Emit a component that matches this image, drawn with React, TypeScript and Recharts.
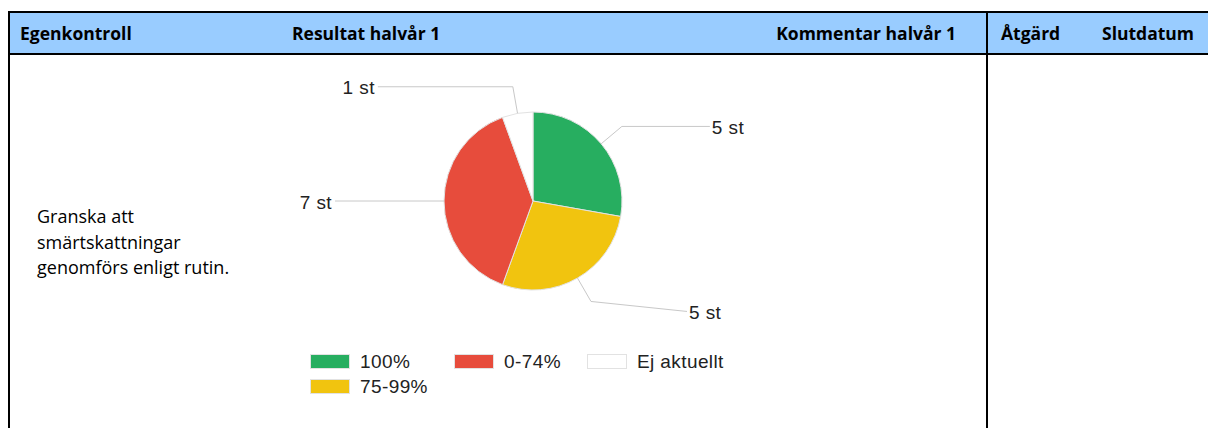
import React from 'react';
import { PieChart, Pie, Cell } from 'recharts';

const categories = ['100%', '75-99%', '0-74%', 'Ej aktuellt'];
const counts = [5, 5, 7, 1];
const colors = ['#27AE60', '#F1C40F', '#E74C3C', '#FFFFFF'];

const headers = ['Egenkontroll', 'Resultat halvår 1', 'Kommentar halvår 1', 'Åtgärd', 'Slutdatum'];
const taskLines = ['Granska att', 'smärtskattningar', 'genomförs enligt rutin.'];

const chartData = categories.map((name, i) => ({ name, value: counts[i] }));

// leader arm tweaks per slice (horizontal length, vertical drop)
const labelArms = [
  { len: 88, drop: 0 },
  { len: 96, drop: 10 },
  { len: 82, drop: 0 },
  { len: 135, drop: 0 },
];

const RAD = Math.PI / 180;
const labelFont = '"Liberation Sans", Arial, sans-serif';
const cellFont = '"Open Sans", Lato, sans-serif';

const renderLabel = (props: any) => {
  const { cx, cy, midAngle, outerRadius, index, value } = props;
  const cos = Math.cos(-midAngle * RAD);
  const sin = Math.sin(-midAngle * RAD);
  const sx = cx + outerRadius * cos;
  const sy = cy + outerRadius * sin;
  const mx = cx + (outerRadius + 27) * cos;
  const my = cy + (outerRadius + 27) * sin;
  const right = cos >= 0;
  const arm = labelArms[index] || { len: 80, drop: 0 };
  const ex = mx + (right ? arm.len : -arm.len);
  const ey = my + arm.drop;
  return (
    <g>
      <polyline points={`${sx},${sy} ${mx},${my} ${ex},${ey}`} fill="none" stroke="#c8c8c8" strokeWidth={1} />
      <text
        x={ex + (right ? 2 : -3)}
        y={ey + 1}
        textAnchor={right ? 'start' : 'end'}
        dominantBaseline="central"
        fontFamily={labelFont}
        fontSize={19}
        letterSpacing={0.4}
        fill="#222"
      >
        {`${value} st`}
      </text>
    </g>
  );
};

const legendSlots = [
  { row: 1, col: 1 },
  { row: 2, col: 1 },
  { row: 1, col: 2 },
  { row: 1, col: 3 },
];

const App: React.FC = () => {
  const headerX = [20, 292, null, 1001, 1102];
  return (
    <div style={{ position: 'absolute', left: 0, top: 0, width: 1208, height: 428, background: '#fff', overflow: 'hidden' }}>
      {/* header band */}
      <div style={{ position: 'absolute', left: 10, top: 13, width: 1198, height: 41, background: '#99CCFF' }} />
      <div style={{ position: 'absolute', left: 8, top: 11, width: 1200, height: 2, background: '#000' }} />
      <div style={{ position: 'absolute', left: 8, top: 53, width: 1200, height: 2, background: '#000' }} />
      <div style={{ position: 'absolute', left: 8, top: 11, width: 2, height: 417, background: '#000' }} />
      <div style={{ position: 'absolute', left: 986, top: 11, width: 2, height: 417, background: '#000' }} />

      {headers.map((h, i) => {
        const base: React.CSSProperties = {
          position: 'absolute',
          top: 13,
          height: 41,
          lineHeight: '41px',
          fontFamily: cellFont,
          fontWeight: 700,
          fontSize: 17.5,
          color: '#000',
          whiteSpace: 'nowrap',
        };
        const x = headerX[i];
        return x === null ? (
          <div key={h} style={{ ...base, right: 1208 - 956 }}>{h}</div>
        ) : (
          <div key={h} style={{ ...base, left: x }}>{h}</div>
        );
      })}

      <div style={{ position: 'absolute', left: 37, top: 204, fontFamily: cellFont, fontSize: 18, lineHeight: '25.5px', color: '#000' }}>
        {taskLines.map((l) => (
          <div key={l}>{l}</div>
        ))}
      </div>

      <div style={{ position: 'absolute', left: 290, top: 56 }}>
        <PieChart width={480} height={290} margin={{ top: 0, right: 0, bottom: 0, left: 0 }}>
          <Pie
            data={chartData}
            dataKey="value"
            nameKey="name"
            cx={243}
            cy={145}
            outerRadius={89}
            startAngle={90}
            endAngle={-270}
            stroke="#e2e2e2"
            strokeWidth={1}
            label={renderLabel}
            labelLine={false}
            isAnimationActive={false}
          >
            {chartData.map((d, i) => (
              <Cell key={d.name} fill={colors[i]} />
            ))}
          </Pie>
        </PieChart>
      </div>

      <div
        style={{
          position: 'absolute',
          left: 310,
          top: 349,
          display: 'grid',
          gridTemplateColumns: '144px 133px auto',
          gridTemplateRows: '25px 25px',
          fontFamily: labelFont,
          fontSize: 19,
          letterSpacing: 0.4,
          color: '#222',
        }}
      >
        {chartData.map((d, i) => (
          <div key={d.name} style={{ gridRow: legendSlots[i].row, gridColumn: legendSlots[i].col, display: 'flex', alignItems: 'center' }}>
            <span style={{ display: 'inline-block', width: 38, height: 13, background: colors[i], border: '1px solid #e2e2e2', marginRight: 10 }} />
            <span>{d.name}</span>
          </div>
        ))}
      </div>
    </div>
  );
};

export default App;
